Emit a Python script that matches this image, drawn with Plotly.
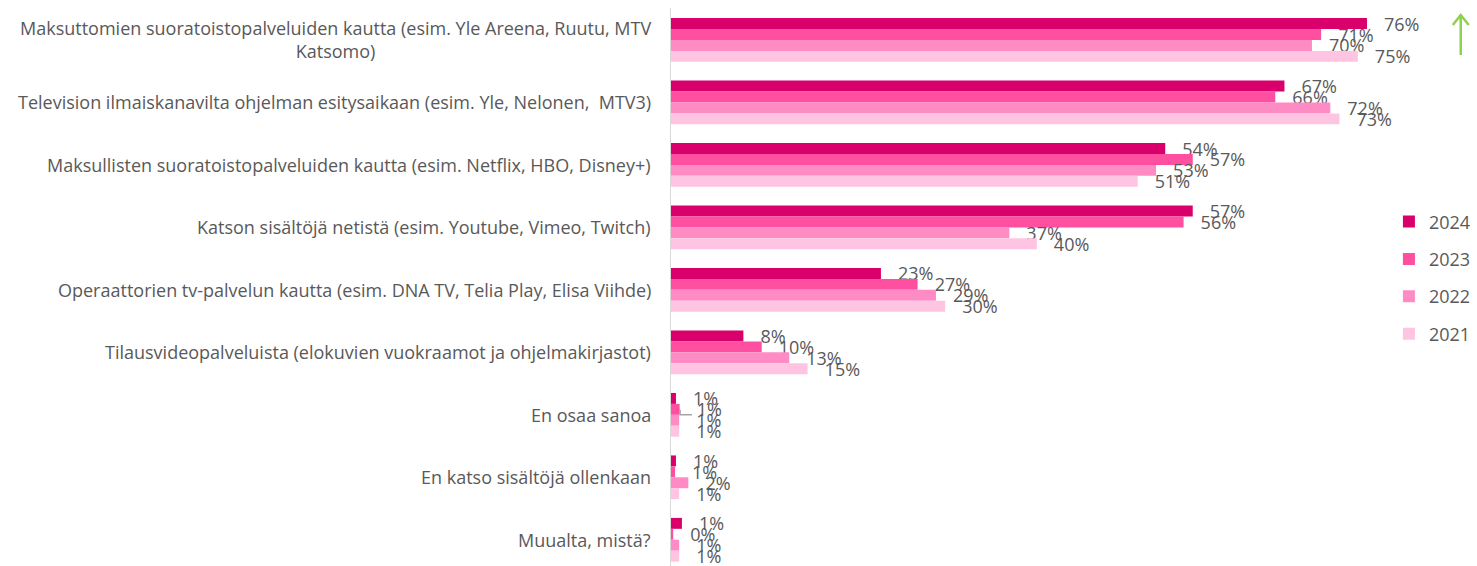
import plotly.graph_objects as go

categories = [
    "Maksuttomien suoratoistopalveluiden kautta (esim. Yle Areena, Ruutu, MTV<br>Katsomo)",
    "Television ilmaiskanavilta ohjelman esitysaikaan (esim. Yle, Nelonen,  MTV3)",
    "Maksullisten suoratoistopalveluiden kautta (esim. Netflix, HBO, Disney+)",
    "Katson sisältöjä netistä (esim. Youtube, Vimeo, Twitch)",
    "Operaattorien tv-palvelun kautta (esim. DNA TV, Telia Play, Elisa Viihde)",
    "Tilausvideopalveluista (elokuvien vuokraamot ja ohjelmakirjastot)",
    "En osaa sanoa",
    "En katso sisältöjä ollenkaan",
    "Muualta, mistä?",
]
years = ["2024", "2023", "2022", "2021"]
v2024 = [76, 67, 54, 57, 23, 8, 0.65, 0.65, 1.3]
v2023 = [71, 66, 57, 56, 27, 10, 1.05, 0.55, 0.35]
v2022 = [70, 72, 53, 37, 29, 13, 1.0, 2.0, 1.0]
v2021 = [75, 73, 51, 40, 30, 15, 1.0, 1.0, 1.0]
series = [v2024, v2023, v2022, v2021]
colors = ["#D9006C", "#FF4FA1", "#FF8BC5", "#FFC4E1"]

grey = "#595959"
font = "Open Sans"
fsize = 18

fig = go.Figure()
for i, (yr, vals, col) in enumerate(zip(years, series, colors)):
    fig.add_trace(go.Bar(
        y=list(range(len(categories))), x=vals, name=yr, orientation="h",
        marker=dict(color=col, line=dict(width=0)),
        texttemplate="\u00a0\u00a0\u00a0%{x:.0f}%", textposition="outside",
        constraintext="none", cliponaxis=False,
        textfont=dict(family=font, size=fsize, color=grey),
        legendgroup=yr, hoverinfo="skip",
    ))

for i, c in enumerate(categories):
    fig.add_annotation(
        x=0, xref="paper", xshift=-17, y=i, yref="y", text=c,
        showarrow=False, xanchor="right", yanchor="middle", align="center",
        font=dict(family=font, size=fsize, color=grey),
    )

# green "up" arrow
fig.add_shape(type="path", xref="paper", yref="paper",
              path="M 1.0832 0.9158 L 1.0832 0.9875 M 1.0723 0.9695 L 1.0832 0.9875 L 1.0942 0.9695",
              line=dict(color="#8DD14F", width=2.5))

# small leader line next to "En osaa sanoa"
fig.add_shape(type="path", xref="x", yref="y",
              path="M 1.1 5.92 L 1.1 6.0 L 2.4 6.0",
              line=dict(color="#A6A6A6", width=1.5))

fig.update_layout(
    width=1477, height=566,
    margin=dict(l=670, r=77, t=8, b=0),
    paper_bgcolor="white", plot_bgcolor="white",
    barmode="group", bargap=0.3, bargroupgap=0,
    font=dict(family=font, color=grey),
    showlegend=True,
    legend=dict(x=1.104, y=0.65, xanchor="right", yanchor="top",
                font=dict(family=font, size=fsize, color=grey),
                tracegroupgap=11, itemclick=False, bgcolor="rgba(0,0,0,0)"),
    xaxis=dict(range=[0, 79.6], visible=False, fixedrange=True),
    yaxis=dict(range=[8.42, -0.512], showticklabels=False, showgrid=False,
               zeroline=False, showline=False, ticks=""),
)
fig.add_shape(type="line", xref="x", yref="paper", x0=0, x1=0, y0=0, y1=1,
              line=dict(color="#D9D9D9", width=2))

fig.write_html("out.html", config={"displayModeBar": False},
               post_script="document.body.style.margin='0';document.body.style.overflow='hidden';")
